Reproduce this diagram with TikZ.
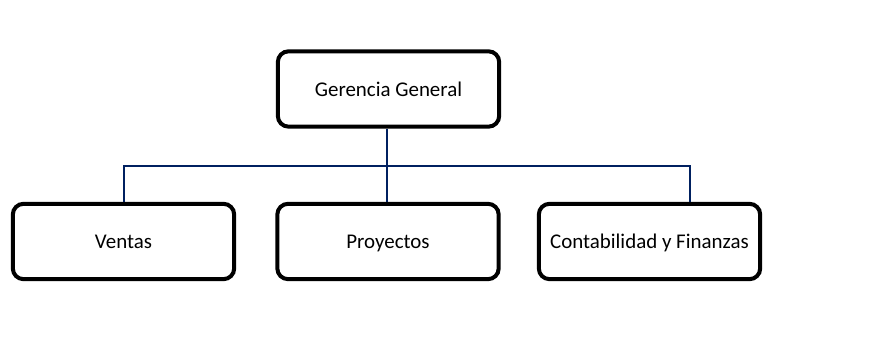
\documentclass[tikz,border=0pt]{standalone}
\usepackage{fontspec}
\setmainfont{Carlito}
\definecolor{navy}{RGB}{0,32,96}
\tikzset{
    unitbox/.style = {draw, line width = 3pt, rounded corners = 8pt,
        minimum width = 166pt, minimum height = 56.5pt, fill = white,
        text height = 1.5ex+6pt, text depth = 0.45ex,
        font = \fontsize{15.7}{18}\selectfont},
    link/.style = {navy, line width = 1.5pt}
}
\begin{document}
\begin{tikzpicture}[x = 0.75pt, y = -0.75pt]
        \useasboundingbox (0,0) rectangle (888,341);

        \node [unitbox] (gerencia) at (388.5, 89) {Gerencia General};
        \node [unitbox] (ventas) at (123.5, 241.5) {Ventas};
        \node [unitbox] (proyectos) at (388, 241.5) {Proyectos};
        \node [unitbox] (finanzas) at (649.5, 241.5) {Contabilidad y Finanzas};

        \coordinate (hub) at (387, 166);
        \coordinate (finjoin) at ([xshift = 30pt] finanzas.north);

        \draw [link] (gerencia.south -| hub) -- (hub);
        \draw [link] (ventas.north) |- (hub) -| (finjoin);
        \draw [link] (hub) -- (proyectos.north -| hub);
\end{tikzpicture}
\end{document}
